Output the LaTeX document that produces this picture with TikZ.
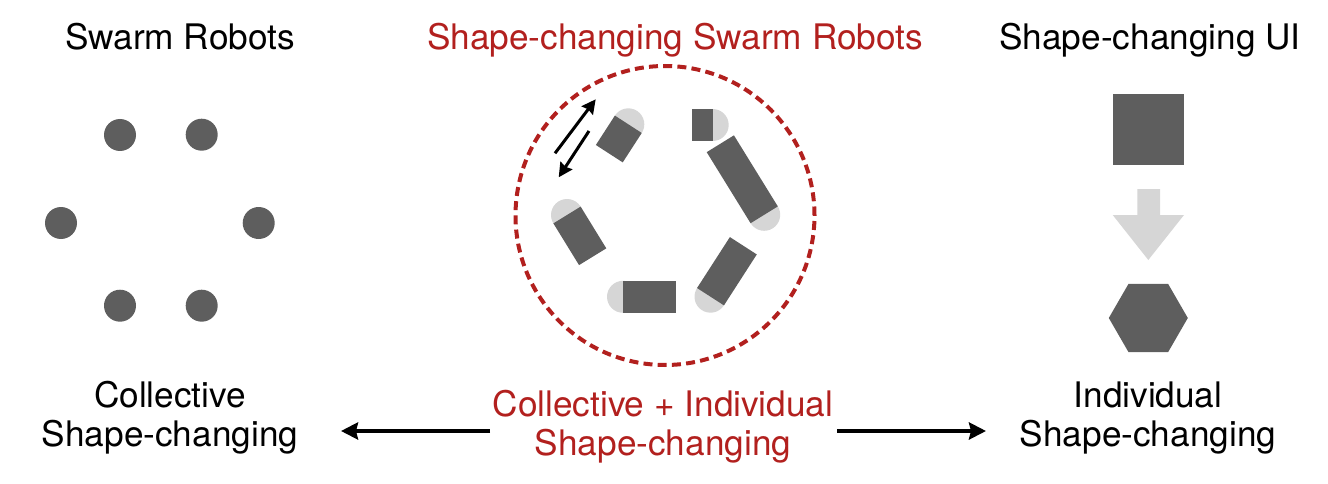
\documentclass[tikz,border=0pt]{standalone}
\usepackage{fontspec}
\setmainfont{TeX Gyre Heros}
\usetikzlibrary{arrows.meta,calc}
\definecolor{bodygray}{RGB}{94,94,94}
\definecolor{capgray}{RGB}{214,214,214}
\definecolor{swarmred}{RGB}{178,32,30}
\newcommand\robot[4]{%
  \fill[capgray] (#1,#2) circle[radius=16pt];
  \fill[bodygray] (#1,#2) ++({#3+90}:16) -- ++({#3}:#4) -- ++({#3-90}:32) -- ++({#3+180}:#4) -- cycle;
}
\begin{document}
\begin{tikzpicture}[x=1pt,y=-1pt,
  lbl/.style={font=\fontsize{35.2}{39}\selectfont, anchor=base, align=center, inner sep=0pt},
  dot/.style={fill=bodygray},
  arr/.style={line width=4pt, -{Stealth[length=17pt,width=17pt,inset=2pt]}},
  sarr/.style={line width=3pt, -{Stealth[length=14pt,width=14pt,inset=1.5pt]}}]
\useasboundingbox (0,0) rectangle (1328,484);
% titles
\node[lbl] (t1) at (180,49.5) {Swarm Robots};
\node[lbl, text=swarmred] (t2) at (675,49.5) {Shape-changing Swarm Robots};
\node[lbl] (t3) at (1150,49.5) {Shape-changing UI};
% swarm dots
\foreach \p/\q [count=\i] in {120/135, 201.7/134.7, 61/223, 258.7/223, 120/305.7, 201.7/305.7}
  \fill[dot] (\p,\q) circle[radius=16pt];
% dashed circle
\draw[swarmred, line width=4pt, dash pattern=on 9pt off 5.23pt] (665,215.5) circle[radius=149.5pt];
% robots
\robot{628.3}{124.3}{122.9}{35}
\robot{712.7}{125}{180}{21}
\robot{764.2}{214.8}{238.3}{83.5}
\robot{710.5}{296.7}{-57.2}{60.6}
\robot{623}{296.8}{0}{53}
\robot{567}{215}{58.4}{49}
% double arrows
\coordinate (a1s) at (555,153.3);
\coordinate (a1e) at (595.7,99.3);
\coordinate (a2s) at (589,131);
\coordinate (a2e) at (558.7,177.3);
\draw[sarr] (a1s) -- (a1e);
\draw[sarr] (a2s) -- (a2e);
% shape-changing UI
\fill[bodygray] (1112.7,94) rectangle (1184,164.7);
\fill[capgray] (1137.3,189) -- (1160,189) -- (1160,215) -- (1184,215) -- (1148.3,260) -- (1112.7,215) -- (1137.3,215) -- cycle;
\fill[bodygray] (1148.3,318) ++(0:39.5) -- ++(120:39.5) -- ++(180:39.5) -- ++(240:39.5) -- ++(300:39.5) -- ++(0:39.5) -- cycle;
% bottom labels (anchor = baseline of last line)
\node[lbl] (b1) at (170,446) {Collective\\Shape-changing};
\node[lbl, text=swarmred] (b2) at (663,455) {Collective + Individual\\Shape-changing};
\node[lbl] (b3) at (1148,446) {Individual\\Shape-changing};
% arrows
\coordinate (l1) at (490,431);
\coordinate (l2) at (341,431);
\coordinate (r1) at (837,431);
\coordinate (r2) at (986,431);
\draw[arr] (l1) -- (l2);
\draw[arr] (r1) -- (r2);
\end{tikzpicture}
\end{document}
